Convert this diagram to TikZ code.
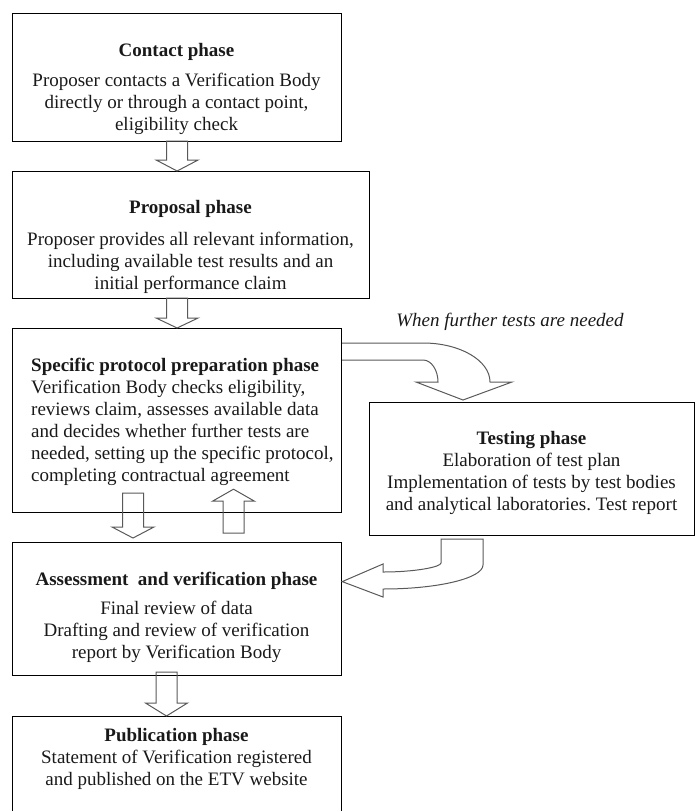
\documentclass[tikz,border=0pt]{standalone}
\usepackage{fontspec}
\setmainfont{Liberation Serif}
\usetikzlibrary{calc}
\frenchspacing
\begin{document}
\begin{tikzpicture}[x=1pt,y=-1pt,
  phasebox/.style={draw=black, line width=1.2pt, inner sep=0pt, anchor=north west},
  phasetext/.style={font=\fontsize{19}{22}\selectfont, align=center, inner sep=0pt, anchor=north, text=black!90},
  blockarrow/.style={draw=black!65, line width=1pt, line join=miter},
  pics/downarrow/.style n args={2}{code={
    \draw[blockarrow] (0,0) -- (-21,-#2) -- (-10.5,-#2) -- (-10.5,-#1) -- (10.5,-#1) -- (10.5,-#2) -- (21,-#2) -- cycle;}},
  pics/uparrow/.style n args={2}{code={
    \draw[blockarrow] (0,0) -- (-21,#2) -- (-10.5,#2) -- (-10.5,#1) -- (10.5,#1) -- (10.5,#2) -- (21,#2) -- cycle;}}
]
\useasboundingbox (0,0) rectangle (695,811);
\clip (0,0) rectangle (695,811);

% boxes
\node[phasebox, minimum width=329pt, minimum height=128pt] (box1) at (12,13) {};
\node[phasebox, minimum width=357pt, minimum height=127pt] (box2) at (12,171) {};
\node[phasebox, minimum width=329pt, minimum height=184pt] (box3) at (12,328) {};
\node[phasebox, minimum width=325pt, minimum height=133pt] (box4) at (369,402) {};
\node[phasebox, minimum width=329pt, minimum height=133pt] (box5) at (12,542) {};
\node[phasebox, minimum width=329pt, minimum height=130pt] (box6) at (12,716) {};

% texts
\node[phasetext] (t1) at (176.5,43.5) {\textbf{Contact phase}\\[8pt]
  Proposer contacts a Verification Body\\
  directly or through a contact point,\\
  eligibility check};
\node[phasetext] (t2) at (190.5,200.5) {\textbf{Proposal phase}\\[10pt]
  Proposer provides all relevant information,\\
  including available test results and an\\
  initial performance claim};
\node[phasetext, align=left, anchor=north west] (t3) at (31,357.5) {\textbf{Specific protocol preparation phase}\\
  Verification Body checks eligibility,\\
  reviews claim, assesses available data\\
  and decides whether further tests are\\
  needed, setting up the specific protocol,\\
  completing contractual agreement};
\node[phasetext] (t4) at (531.5,431.5) {\textbf{Testing phase}\\
  Elaboration of test plan\\
  Implementation of tests by test bodies\\
  and analytical laboratories. Test report};
\node[phasetext] (t5) at (176.5,571.5) {\textbf{Assessment\ \ and verification phase}\\[7pt]
  Final review of data\\
  Drafting and review of verification\\
  report by Verification Body};
\node[phasetext] (t6) at (176.5,728.5) {\textbf{Publication phase}\\
  Statement of Verification registered\\
  and published on the ETV website};
\node[font=\fontsize{19}{22}\selectfont\itshape, inner sep=0pt, anchor=base, text=black!90] (lbl) at (510,326) {When further tests are needed};

% straight block arrows
\path (box1.south |- box2.north) pic {downarrow={30}{11}};
\path (box1.south |- box3.north) pic {downarrow={30}{10}};
\path ($(box5.north west)+(121,-4)$) pic {downarrow={45}{11}};
\path ($(box3.south west)+(221.5,-24)$) pic {uparrow={44}{12}};
\path ($(box6.north west)+(154.5,0)$) pic {downarrow={44}{13}};

% curved arrow: specific protocol -> testing
\draw[blockarrow] ($(box3.north east)+(0,15)$) -- (423,343)
  .. controls (460,343) and (490,360.5) .. (490,382)
  -- (512,382) -- (463,400) -- (416,382) -- (438,382)
  .. controls (438,370) and (431.3,360) .. (423,360)
  -- ($(box3.north east)+(0,32)$);

% curved arrow: testing -> assessment
\draw[blockarrow] (441,539) -- (483,539) -- (483,565)
  .. controls (483,578.2) and (438.2,589) .. (383,589)
  -- (383,597) -- ($(box5.east)+(0,-27.5)$) -- (383,564) -- (383,572)
  .. controls (415,572) and (441,567) .. (441,563) -- cycle;
\end{tikzpicture}
\end{document}
